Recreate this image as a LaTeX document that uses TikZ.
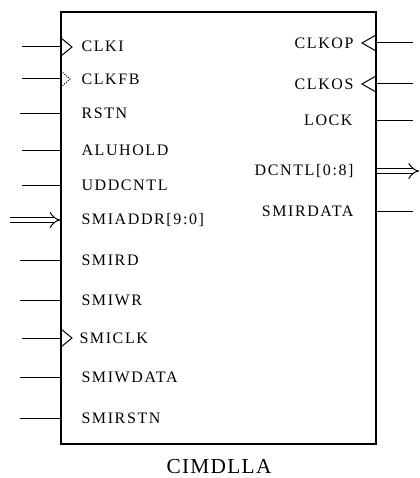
\documentclass[tikz,border=0pt]{standalone}
\usepackage{fontspec}
\setmainfont{Liberation Serif}
\newfontfamily\pinfont{Liberation Serif}[LetterSpace=10]
\newfontfamily\titlefont{Liberation Serif}[LetterSpace=6]
\usetikzlibrary{arrows.meta}
\tikzset{every picture/.style={line width=0.75pt}}

\begin{document}
\begin{tikzpicture}[x=0.75pt,y=0.75pt,yscale=-1,xscale=1,
  pinl/.style={anchor=west,inner sep=0.75pt,font=\pinfont\fontsize{12}{14}\selectfont},
  pinr/.style={anchor=east,inner sep=0.75pt,font=\pinfont\fontsize{12}{14}\selectfont},
  bus/.style={double,double distance=3.5pt,-{Implies}}]
%set diagram left start at 0, and has height of 478
\useasboundingbox (0,0) rectangle (419,478);

%Shape: Rectangle [id:dll]
\node [draw,line width=1pt,inner sep=0pt,minimum width=236.25pt,minimum height=324pt] (dll) at (218.5,228) {};

% Text Node
\node [pinl] (clki) at (80,46) {CLKI};
% Text Node
\node [pinl] (clkfb) at (80,79) {CLKFB};
% Text Node
\node [pinl] (rstn) at (80,113) {RSTN};
% Text Node
\node [pinl] (aluhold) at (80,150) {ALUHOLD};
% Text Node
\node [pinl] (uddcntl) at (80,185) {UDDCNTL};
% Text Node
\node [pinl] (smiaddr) at (80,220) {SMIADDR[9:0]};
% Text Node
\node [pinl] (smird) at (80,260) {SMIRD};
% Text Node
\node [pinl] (smiwr) at (80,300) {SMIWR};
% Text Node
\node [pinl] (smiclk) at (78,338) {SMICLK};
% Text Node
\node [pinl] (smiwdata) at (80,377) {SMIWDATA};
% Text Node
\node [pinl] (smirstn) at (80,418) {SMIRSTN};

% Text Node
\node [pinr] (clkop) at (355,43) {CLKOP};
% Text Node
\node [pinr] (clkos) at (355,84) {CLKOS};
% Text Node
\node [pinr] (lock) at (354,120) {LOCK};
% Text Node
\node [pinr] (dcntl) at (355,171) {DCNTL[0:8]};
% Text Node
\node [pinr] (smirdata) at (355,211) {SMIRDATA};

% Text Node
\node [inner sep=0.75pt,font=\titlefont\fontsize{16}{18}\selectfont] (cimdlla) at (219,467) {CIMDLLA};

%Pin ends
\coordinate (clki-in) at (22,47);
\coordinate (clkfb-in) at (22,79);
\coordinate (rstn-in) at (20,113);
\coordinate (aluhold-in) at (22,150);
\coordinate (uddcntl-in) at (22,185);
\coordinate (smiaddr-in) at (10,220);
\coordinate (smird-in) at (20,260);
\coordinate (smiwr-in) at (20,300);
\coordinate (smiclk-in) at (22,338);
\coordinate (smiwdata-in) at (20,377);
\coordinate (smirstn-in) at (20,418);
\coordinate (clkop-out) at (413,43);
\coordinate (clkos-out) at (413,84);
\coordinate (lock-out) at (413,120);
\coordinate (dcntl-out) at (419,171);
\coordinate (smirdata-out) at (413,211);

%Straight Lines
\draw (clki-in) -- (dll.west |- clki-in);
\draw (clkfb-in) -- (dll.west |- clkfb-in);
\draw (rstn-in) -- (dll.west |- rstn-in);
\draw (aluhold-in) -- (dll.west |- aluhold-in);
\draw (uddcntl-in) -- (dll.west |- uddcntl-in);
\draw [bus] (smiaddr-in) -- (dll.west |- smiaddr-in);
\draw (smird-in) -- (dll.west |- smird-in);
\draw (smiwr-in) -- (dll.west |- smiwr-in);
\draw (smiclk-in) -- (dll.west |- smiclk-in);
\draw (smiwdata-in) -- (dll.west |- smiwdata-in);
\draw (smirstn-in) -- (dll.west |- smirstn-in);
\draw (dll.east |- clkop-out) -- (clkop-out);
\draw (dll.east |- clkos-out) -- (clkos-out);
\draw (dll.east |- lock-out) -- (clkos-out |- lock-out);
\draw [bus] (dll.east |- dcntl-out) -- (dcntl-out);
\draw (dll.east |- smirdata-out) -- (smirdata-out);

%Clock marks
\draw (61,38) -- (72,47) -- (61,56);
\draw [densely dotted] (61,71) -- (70,79) -- (61,87);
\draw (61,329) -- (72,338) -- (61,347);
\draw (376,35) -- (362,43) -- (376,51);
\draw (376,76) -- (362,84) -- (376,92);

\end{tikzpicture}
\end{document}
